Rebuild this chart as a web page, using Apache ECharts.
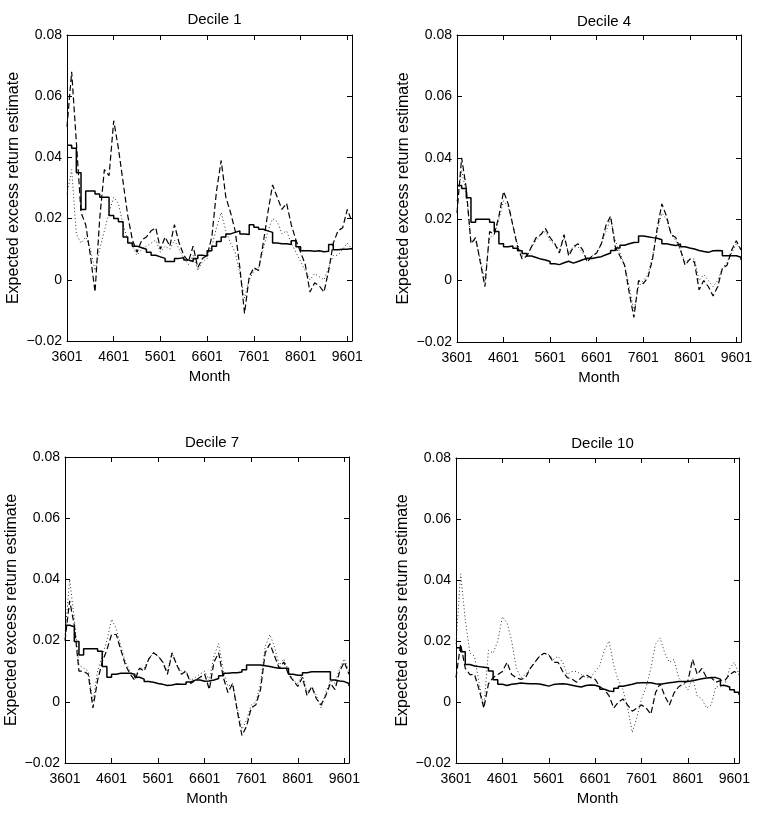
<!DOCTYPE html>
<html>
<head>
<meta charset="utf-8">
<script src="https://cdn.jsdelivr.net/npm/echarts@6/dist/echarts.min.js"></script>
<style>
html, body { margin: 0; padding: 0; background: #fff; }
#chart { width: 758px; height: 821px; }
</style>
</head>
<body>
<div id="chart"></div>
<script>
// years since 1936 (x axis shows YYMM labels)
const years = [0,1,2,3,4,5,6,7,8,9,10,11,12,13,14,15,16,17,18,19,20,21,22,23,24,25,26,27,28,29,30,
  31,32,33,34,35,36,37,38,39,40,41,42,43,44,45,46,47,48,49,50,51,52,53,54,55,56,57,58,59,60,61];
const monthLabels = ['3601', '4601', '5601', '6601', '7601', '8601', '9601'];

// Decile 1
const dec1Solid = [0.044,0.043,0.035,0.023,0.029,0.029,0.028,0.027,0.027,0.021,0.020,0.019,0.014,0.012,0.011,0.0105,
  0.010,0.009,0.008,0.0075,0.007,0.006,0.006,0.007,0.0072,0.0065,0.006,0.007,0.008,0.0078,0.0095,
  0.011,0.0125,0.014,0.015,0.0155,0.016,0.015,0.0148,0.018,0.0172,0.0165,0.016,0.0155,0.012,0.0118,
  0.0118,0.0115,0.0128,0.0108,0.0095,0.0095,0.0093,0.0095,0.0092,0.0093,0.0115,0.0098,0.010,0.010,0.0102,0.0098];
const dec1Dash = [0.050,0.068,0.045,0.022,0.018,0.008,-0.004,0.020,0.036,0.034,0.052,0.043,0.032,0.021,0.013,0.009,
  0.013,0.014,0.016,0.017,0.010,0.014,0.011,0.018,0.012,0.008,0.006,0.011,0.004,0.007,0.008,
  0.014,0.029,0.039,0.027,0.022,0.016,0.004,-0.011,0.001,0.004,0.003,0.012,0.022,0.031,0.027,
  0.023,0.025,0.018,0.013,0.009,0.005,-0.004,-0.001,-0.002,-0.004,0.003,0.012,0.016,0.017,0.023,0.019];
const dec1Dot = [0.028,0.036,0.015,0.012,0.014,0.010,0.003,0.010,0.016,0.022,0.027,0.025,0.018,0.013,0.011,0.008,
  0.010,0.011,0.012,0.013,0.009,0.011,0.010,0.013,0.010,0.007,0.005,0.008,0.003,0.006,0.007,
  0.011,0.017,0.022,0.016,0.012,0.009,0.002,-0.006,0.000,0.003,0.004,0.010,0.016,0.020,0.019,
  0.015,0.016,0.012,0.009,0.006,0.003,0.000,0.002,0.001,0.000,0.004,0.008,0.008,0.010,0.012,0.010];

// Decile 4
const dec4Solid = [0.031,0.030,0.027,0.019,0.020,0.020,0.020,0.019,0.016,0.012,0.011,0.0113,0.0105,0.0097,0.0088,0.008,
  0.0075,0.007,0.0067,0.0062,0.0055,0.0052,0.0058,0.0063,0.0057,0.0062,0.0068,0.0073,0.0072,0.0075,0.0078,
  0.0084,0.009,0.0098,0.0106,0.0115,0.012,0.0124,0.0125,0.0145,0.0143,0.014,0.0138,0.0133,0.012,0.0117,
  0.0114,0.0119,0.011,0.0106,0.0103,0.0098,0.0095,0.0092,0.0097,0.0098,0.0097,0.0081,0.0081,0.0081,0.0076,0.0067];
const dec4Dash = [0.022,0.040,0.030,0.012,0.014,0.006,-0.002,0.016,0.015,0.021,0.029,0.025,0.018,0.011,0.007,0.008,
  0.011,0.014,0.015,0.017,0.014,0.012,0.009,0.015,0.008,0.011,0.012,0.010,0.006,0.008,0.009,
  0.012,0.018,0.021,0.011,0.008,0.005,-0.004,-0.012,0.000,-0.001,0.001,0.007,0.017,0.025,0.021,
  0.015,0.014,0.010,0.005,0.007,0.006,-0.003,0.000,-0.002,-0.005,-0.002,0.004,0.005,0.010,0.013,0.010];
const dec4Dot = [0.026,0.036,0.028,0.013,0.013,0.007,0.000,0.014,0.015,0.020,0.026,0.024,0.018,0.012,0.008,0.008,
  0.011,0.013,0.015,0.016,0.013,0.012,0.010,0.014,0.009,0.011,0.011,0.009,0.007,0.008,0.009,
  0.012,0.016,0.020,0.013,0.009,0.005,-0.002,-0.010,-0.002,0.000,0.002,0.008,0.016,0.022,0.020,
  0.015,0.013,0.010,0.006,0.007,0.007,0.000,0.002,0.000,-0.002,0.000,0.004,0.006,0.009,0.012,0.010];

// Decile 7
const dec7Solid = [0.025,0.0245,0.0197,0.0153,0.0173,0.0173,0.0173,0.0165,0.0115,0.008,0.009,0.0093,0.0093,0.0093,0.009,0.008,
  0.0074,0.0066,0.0064,0.006,0.0057,0.0053,0.0055,0.0058,0.0057,0.0057,0.0065,0.0071,0.0071,0.0067,0.0068,
  0.0071,0.0076,0.0085,0.0093,0.0095,0.0095,0.0097,0.0105,0.012,0.012,0.012,0.0118,0.0115,0.0112,0.011,
  0.011,0.011,0.009,0.0087,0.0087,0.0095,0.0098,0.0098,0.0098,0.0098,0.0098,0.0071,0.0068,0.0066,0.006,0.0052];
const dec7Dash = [0.020,0.033,0.025,0.010,0.010,0.009,-0.002,0.007,0.013,0.017,0.022,0.022,0.017,0.012,0.009,0.007,
  0.011,0.010,0.014,0.016,0.015,0.013,0.009,0.016,0.012,0.009,0.010,0.006,0.007,0.008,0.009,
  0.004,0.013,0.016,0.008,0.003,0.006,-0.003,-0.011,-0.008,-0.002,-0.001,0.004,0.016,0.019,0.015,
  0.011,0.013,0.009,0.007,0.005,0.008,0.002,0.005,0.001,-0.001,0.002,0.006,0.004,0.010,0.013,0.009];
const dec7Dot = [0.022,0.040,0.027,0.012,0.011,0.010,0.000,0.010,0.015,0.020,0.027,0.024,0.018,0.013,0.010,0.008,
  0.011,0.011,0.014,0.016,0.015,0.013,0.010,0.016,0.012,0.010,0.010,0.007,0.008,0.009,0.010,
  0.007,0.015,0.019,0.010,0.005,0.006,-0.002,-0.009,-0.006,-0.001,0.000,0.006,0.018,0.022,0.018,
  0.012,0.014,0.010,0.007,0.006,0.009,0.003,0.005,0.002,-0.002,0.003,0.007,0.006,0.011,0.014,0.010];

// Decile 10
const dec10Solid = [0.0178,0.0165,0.0123,0.0118,0.0116,0.0114,0.0112,0.0102,0.0073,0.0058,0.0054,0.0058,0.006,0.0062,0.0061,0.006,
  0.006,0.0059,0.0056,0.0052,0.0057,0.0059,0.006,0.0058,0.0055,0.0052,0.0049,0.0054,0.0056,0.0055,0.005,
  0.0042,0.0036,0.0034,0.0045,0.0052,0.0055,0.0058,0.0062,0.0063,0.0063,0.0063,0.006,0.0058,0.0061,0.0063,
  0.0065,0.0067,0.0067,0.0067,0.007,0.0073,0.0076,0.0079,0.008,0.008,0.0075,0.0054,0.0049,0.004,0.0032,0.0023];
const dec10Dash = [0.008,0.019,0.011,0.009,0.009,0.004,-0.002,0.006,0.008,0.009,0.010,0.013,0.009,0.008,0.0074,0.008,
  0.011,0.013,0.015,0.016,0.0155,0.013,0.013,0.010,0.008,0.0075,0.0065,0.008,0.009,0.008,0.0074,
  0.005,0.004,0.002,-0.002,0.000,0.001,-0.001,-0.003,-0.002,-0.001,-0.002,-0.004,0.003,0.006,0.002,
  -0.001,0.003,0.005,0.006,0.007,0.014,0.009,0.011,0.008,0.008,0.0065,0.007,0.0072,0.009,0.010,0.009];
const dec10Dot = [0.019,0.042,0.027,0.016,0.015,0.006,-0.002,0.017,0.016,0.020,0.028,0.026,0.020,0.011,0.008,0.009,
  0.011,0.013,0.015,0.016,0.0155,0.014,0.015,0.013,0.009,0.010,0.010,0.009,0.008,0.008,0.010,
  0.012,0.017,0.020,0.012,0.007,0.004,-0.002,-0.010,-0.005,0.001,0.005,0.011,0.019,0.021,0.016,
  0.013,0.014,0.008,0.006,0.004,0.008,0.002,0.001,-0.002,-0.001,0.005,0.005,0.006,0.011,0.013,0.009];

const FONT = '"Liberation Sans", Arial, sans-serif';

const panels = [
  { title: 'Decile 1', solid: dec1Solid, dash: dec1Dash, dot: dec1Dot, box: [67, 35, 285, 306], titleY: 7 },
  { title: 'Decile 4', solid: dec4Solid, dash: dec4Dash, dot: dec4Dot, box: [457, 35, 284, 307], titleY: 9 },
  { title: 'Decile 7', solid: dec7Solid, dash: dec7Dash, dot: dec7Dot, box: [65, 457, 284, 306], titleY: 430 },
  { title: 'Decile 10', solid: dec10Solid, dash: dec10Dash, dot: dec10Dot, box: [456, 458, 283, 305], titleY: 431 }
];

function yFmt(v) {
  if (Math.abs(v) < 1e-9) return '0';
  return v < 0 ? '\u2212' + (-v).toFixed(2) : v.toFixed(2);
}

const line = { color: '#000', width: 1 };
const tick = { inside: true, length: 5, lineStyle: { color: '#000', width: 1 } };

let grid = [], xAxis = [], yAxis = [], title = [], series = [];
panels.forEach(function (p, i) {
  const b = p.box;
  grid.push({ left: b[0], top: b[1], width: b[2], height: b[3], containLabel: false });
  title.push({
    text: p.title, left: b[0] + b[2] / 2, top: p.titleY, textAlign: 'center',
    textStyle: { fontFamily: FONT, fontSize: 15, fontWeight: 'normal', color: '#000' }
  });
  const xBase = {
    type: 'value', gridIndex: i, min: 0, max: 61, interval: 10,
    axisLine: { show: true, onZero: false, lineStyle: line }, axisTick: tick, splitLine: { show: false }
  };
  xAxis.push(Object.assign({}, xBase, {
    position: 'bottom',
    axisLabel: {
      color: '#000', fontFamily: FONT, fontSize: 14, margin: 9,
      formatter: function (v) { return v % 10 === 0 ? monthLabels[v / 10] : ''; }
    },
    name: 'Month', nameLocation: 'middle', nameGap: 28,
    nameTextStyle: { color: '#000', fontFamily: FONT, fontSize: 15 }
  }));
  xAxis.push(Object.assign({}, xBase, { position: 'top', axisLabel: { show: false } }));
  const yBase = {
    type: 'value', gridIndex: i, min: -0.02, max: 0.08, interval: 0.02,
    axisLine: { show: true, onZero: false, lineStyle: line }, axisTick: tick, splitLine: { show: false }
  };
  yAxis.push(Object.assign({}, yBase, {
    position: 'left',
    axisLabel: { color: '#000', fontFamily: FONT, fontSize: 14, margin: 5, formatter: yFmt },
    name: 'Expected excess return estimate', nameLocation: 'middle', nameGap: 45,
    nameTextStyle: { color: '#000', fontFamily: FONT, fontSize: 16 }
  }));
  yAxis.push(Object.assign({}, yBase, { position: 'right', axisLabel: { show: false } }));

  const mk = function (vals, style, z, step) {
    return {
      type: 'line', xAxisIndex: 2 * i, yAxisIndex: 2 * i, z: z, step: step,
      data: years.map(function (x, k) { return [x, vals[k]]; }),
      symbol: 'none', silent: true, lineStyle: style
    };
  };
  series.push(mk(p.dot, { color: '#333', width: 1, type: [1, 2.5] }, 2, false));
  series.push(mk(p.dash, { color: '#000', width: 1.2, type: [6, 3] }, 3, false));
  series.push(mk(p.solid, { color: '#000', width: 1.5 }, 4, 'end'));
});

const chart = echarts.init(document.getElementById('chart'));
chart.setOption({
  animation: false,
  backgroundColor: '#fff',
  title: title,
  grid: grid,
  xAxis: xAxis,
  yAxis: yAxis,
  series: series
});
</script>
</body>
</html>
